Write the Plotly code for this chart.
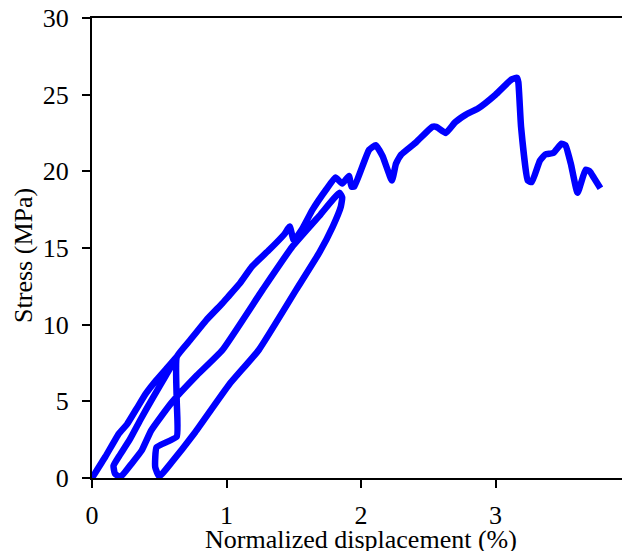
import plotly.graph_objects as go

# Stress-displacement record (normalized displacement %, stress MPa)
# first loading, unloading, reloading (middle branch), unloading (lower branch),
# reloading along the vertical, then loading to failure
disp = [0.00, 0.10, 0.20, 0.26, 0.33, 0.40, 0.48, 0.56, 0.63,
        0.55, 0.45, 0.36, 0.28, 0.20, 0.16, 0.17, 0.21,
        0.30, 0.37, 0.44, 0.59, 0.78, 0.97, 1.27, 1.49, 1.70, 1.84,
        1.86, 1.85, 1.79, 1.69, 1.52, 1.24, 1.02, 0.76, 0.59, 0.50,
        0.47, 0.48, 0.63, 0.63, 0.63,
        0.73, 0.85, 0.97, 1.01, 1.10, 1.19, 1.32, 1.43, 1.47, 1.50, 1.56, 1.64, 1.74, 1.81,
        1.86, 1.91, 1.93, 1.95, 2.06, 2.11, 2.16, 2.23, 2.26, 2.30, 2.41, 2.53, 2.56,
        2.63, 2.70, 2.78, 2.87, 3.00, 3.12, 3.16, 3.17, 3.19, 3.24, 3.27, 3.33,
        3.37, 3.43, 3.49, 3.52, 3.56, 3.61, 3.67, 3.70, 3.73, 3.78]
stress = [0.0, 1.4, 2.9, 3.5, 4.5, 5.5, 6.4, 7.2, 7.9,
          6.7, 5.2, 3.8, 2.5, 1.4, 0.8, 0.3, 0.05,
          1.0, 1.8, 3.1, 4.9, 6.7, 8.35, 12.3, 15.1, 17.2, 18.6,
          18.3, 17.7, 16.4, 14.7, 12.3, 8.35, 6.1, 2.9, 1.0, 0.1,
          0.7, 2.0, 2.7, 5.0, 7.9,
          9.0, 10.3, 11.4, 11.8, 12.7, 13.8, 14.9, 15.9, 16.4, 15.5, 16.2, 17.5, 18.8, 19.6,
          19.2, 19.7, 19.0, 19.0, 21.4, 21.7, 21.0, 19.4, 20.5, 21.1, 21.9, 22.9, 22.9,
          22.5, 23.2, 23.7, 24.1, 25.0, 26.0, 26.1, 25.8, 22.9, 19.4, 19.3, 20.7,
          21.1, 21.2, 21.8, 21.7, 20.5, 18.6, 20.1, 20.0, 19.6, 18.9]

x_ticks = [0, 1, 2, 3, 4]
y_ticks = [0, 5, 10, 15, 20, 25, 30]

fig = go.Figure(go.Scatter(x=disp, y=stress, mode="lines",
                           line=dict(color="#0000FF", width=6.5, shape="spline", smoothing=0.4)))

serif = dict(family="Liberation Serif", size=26, color="black")

# page body has an 8px margin, so the figure is sized to fit inside the window
fig.update_layout(
    width=622, height=543,
    margin=dict(l=84, r=0, t=10, b=73, autoexpand=False),
    plot_bgcolor="white", paper_bgcolor="white",
    showlegend=False,
    font=serif,
)
fig.update_xaxes(range=[0, 4], tickvals=x_ticks, showgrid=False, zeroline=False,
                 showline=True, linecolor="black", linewidth=2, mirror=True,
                 ticks="outside", ticklen=8, tickwidth=2, tickcolor="black",
                 ticklabelstandoff=5, ticklabeloverflow="allow", tickfont=serif,
                 automargin=False)
fig.update_yaxes(range=[0, 30], tickvals=y_ticks, showgrid=False, zeroline=False,
                 showline=True, linecolor="black", linewidth=2,
                 ticks="outside", ticklen=8, tickwidth=2, tickcolor="black",
                 ticklabelstandoff=8, ticklabeloverflow="allow", tickfont=serif,
                 automargin=False)

# axis titles
fig.add_annotation(text="Normalized displacement (%)", xref="paper", yref="paper",
                   x=0.5, y=-0.134, xanchor="center", yanchor="middle",
                   showarrow=False, font=serif)
fig.add_annotation(text="Stress (MPa)", xref="paper", yref="paper",
                   x=-0.1264, y=0.485, xanchor="center", yanchor="middle",
                   textangle=-90, showarrow=False, font=serif)

fig.write_html("out.html")
